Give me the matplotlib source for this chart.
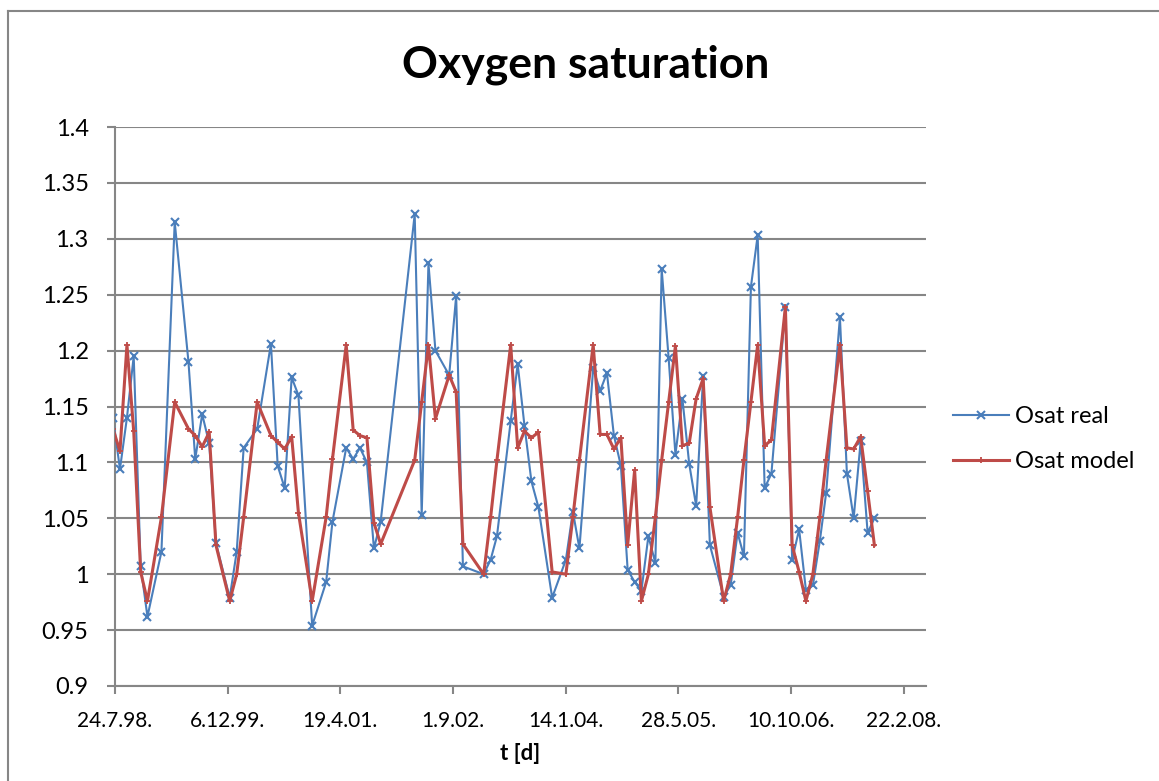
import matplotlib
matplotlib.use("Agg")
import matplotlib.pyplot as plt
import matplotlib.dates as mdates
from matplotlib.lines import Line2D
import numpy as np
import pandas as pd

plt.rcParams['font.family'] = ['Lato', 'DejaVu Sans']

# monthly samples (mid-month), gaps where no sample was taken
months = ["1998-07", "1998-08", "1998-09", "1998-10", "1998-11", "1998-12",
          "1999-02", "1999-04", "1999-06", "1999-07", "1999-08", "1999-09",
          "1999-10", "1999-12", "2000-01", "2000-02", "2000-04", "2000-06",
          "2000-07", "2000-08", "2000-09", "2000-10", "2000-12", "2001-02",
          "2001-03", "2001-05", "2001-06", "2001-07", "2001-08", "2001-09",
          "2001-10", "2002-03", "2002-04", "2002-05", "2002-06", "2002-08",
          "2002-09", "2002-10", "2003-01", "2003-02", "2003-03", "2003-05",
          "2003-06", "2003-07", "2003-08", "2003-09", "2003-11", "2004-01",
          "2004-02", "2004-03", "2004-05", "2004-06", "2004-07", "2004-08",
          "2004-09", "2004-10", "2004-11", "2004-12", "2005-01", "2005-02",
          "2005-03", "2005-04", "2005-05", "2005-06", "2005-07", "2005-08",
          "2005-09", "2005-10", "2005-12", "2006-01", "2006-02", "2006-03",
          "2006-04", "2006-05", "2006-06", "2006-07", "2006-09", "2006-10",
          "2006-11", "2006-12", "2007-01", "2007-02", "2007-03", "2007-05",
          "2007-06", "2007-07", "2007-08", "2007-09", "2007-10"]

osat_real = [1.140, 1.094, 1.140, 1.195, 1.007, 0.962,
             1.020, 1.315, 1.190, 1.103, 1.143, 1.117,
             1.028, 0.979, 1.020, 1.113, 1.130, 1.206,
             1.097, 1.077, 1.176, 1.160, 0.954, 0.993,
             1.047, 1.113, 1.103, 1.113, 1.100, 1.023,
             1.047, 1.322, 1.053, 1.278, 1.200, 1.178,
             1.249, 1.007, 1.000, 1.013, 1.034, 1.137,
             1.188, 1.133, 1.083, 1.060, 0.979, 1.013,
             1.056, 1.023, 1.184, 1.164, 1.180, 1.124,
             1.097, 1.004, 0.993, 0.985, 1.034, 1.010,
             1.273, 1.193, 1.107, 1.157, 1.099, 1.061,
             1.177, 1.026, 0.980, 0.990, 1.037, 1.016,
             1.257, 1.303, 1.077, 1.090, 1.239, 1.013,
             1.040, 0.986, 0.990, 1.030, 1.073, 1.230,
             1.090, 1.050, 1.119, 1.037, 1.050]

osat_model = [1.130, 1.110, 1.205, 1.128, 1.002, 0.976,
              1.051, 1.154, 1.130, 1.124, 1.114, 1.127,
              1.026, 0.976, 1.000, 1.051, 1.154, 1.124,
              1.118, 1.112, 1.123, 1.055, 0.976, 1.051,
              1.103, 1.205, 1.129, 1.124, 1.122, 1.046,
              1.027, 1.102, 1.154, 1.205, 1.139, 1.178,
              1.163, 1.027, 1.000, 1.051, 1.102, 1.205,
              1.113, 1.128, 1.122, 1.127, 1.002, 1.000,
              1.051, 1.102, 1.205, 1.125, 1.125, 1.112,
              1.122, 1.026, 1.093, 0.976, 1.000, 1.051,
              1.102, 1.154, 1.204, 1.115, 1.117, 1.157,
              1.175, 1.060, 0.976, 1.000, 1.051, 1.102,
              1.154, 1.205, 1.115, 1.120, 1.239, 1.026,
              1.002, 0.976, 1.000, 1.051, 1.102, 1.205,
              1.113, 1.112, 1.123, 1.074, 1.026]

y_ticks = [0.9, 0.95, 1.0, 1.05, 1.1, 1.15, 1.2, 1.25, 1.3, 1.35, 1.4]
x_start = "1998-07-24"
x_step_days = 500
n_xticks = 8

dates = pd.to_datetime([m + "-15" for m in months])
xticks = pd.Timestamp(x_start) + pd.to_timedelta(np.arange(n_xticks) * x_step_days, unit="D")

grey = "#868686"
blue = "#4A7EBB"
red = "#BE4B48"

fig = plt.figure(figsize=(11.59, 7.81), dpi=100)
ax = fig.add_axes([115 / 1159, 1 - 686 / 781, (926 - 115) / 1159, (686 - 127) / 781])

ax.plot(dates, osat_real, color=blue, lw=1.5, marker="x", ms=5.5, mew=1.5, label="Osat real", zorder=3)
ax.plot(dates, osat_model, color=red, lw=2.2, marker="+", ms=5, mew=1.3, label="Osat model", zorder=4)

ax.set_xlim(pd.Timestamp(x_start), pd.Timestamp("2008-05-31"))
ax.set_ylim(0.9, 1.4)
ax.set_yticks(y_ticks)
ax.yaxis.set_major_formatter(plt.FuncFormatter(lambda v, p: f"{v:g}"))
ax.set_xticks(xticks)
ax.xaxis.set_major_formatter(plt.FuncFormatter(
    lambda v, p: "{0.day}.{0.month}.{0:%y}.".format(mdates.num2date(v))))

ax.grid(axis="y", color=grey, lw=1.5)
ax.set_axisbelow(True)
for s in ["top", "right"]:
    ax.spines[s].set_visible(False)
for s in ["left", "bottom"]:
    ax.spines[s].set_color(grey)
    ax.spines[s].set_linewidth(1.5)
ax.tick_params(axis="both", colors=grey, labelcolor="black", width=1.5, length=6)
ax.tick_params(axis="y", labelsize=17, pad=13)
ax.tick_params(axis="x", labelsize=15, pad=12)

ax.set_xlabel("t [d]", fontsize=16, fontweight="bold", labelpad=9)
fig.text(0.505, 1 - 65 / 781, "Oxygen saturation", fontsize=32, fontweight="bold",
         ha="center", va="center")

fig.legend(loc="center left", bbox_to_anchor=(941 / 1159, 1 - 439 / 781), frameon=False,
           fontsize=17, handlelength=2.4, handletextpad=0.25, labelspacing=1.0, borderpad=0)

# chart border
fig.add_artist(Line2D([8 / 1159, 1.0], [1 - 11 / 781] * 2, color=grey, lw=1.5))
fig.add_artist(Line2D([8 / 1159] * 2, [0, 1 - 11 / 781], color=grey, lw=1.5))

fig.savefig("out.png", dpi=100)
